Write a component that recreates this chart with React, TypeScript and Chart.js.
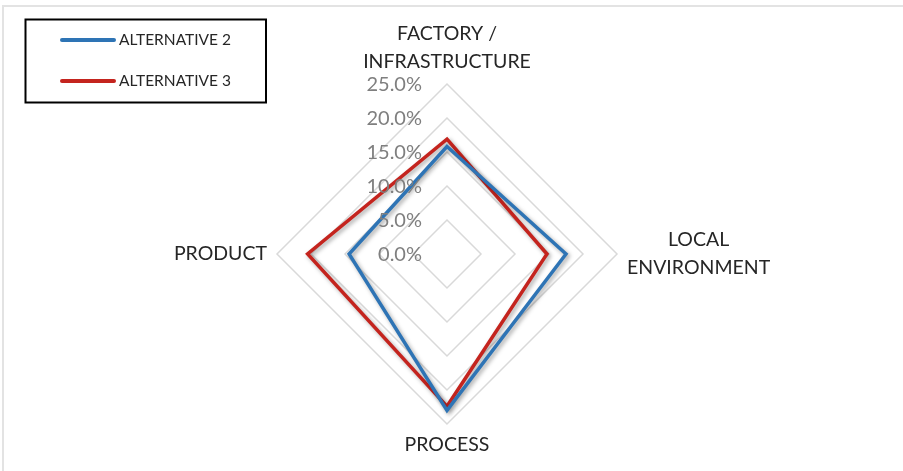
import React, { useEffect, useRef } from "react";
import { Chart, registerables } from "chart.js";

Chart.register(...registerables);

const categories: string[][] = [
  ["FACTORY /", "INFRASTRUCTURE"],
  ["LOCAL", "ENVIRONMENT"],
  ["PROCESS"],
  ["PRODUCT"],
];
const seriesNames = ["ALTERNATIVE 2", "ALTERNATIVE 3"];
const alternative2 = [15.8, 17.5, 23.0, 14.4];
const alternative3 = [16.9, 14.7, 22.4, 20.5];
const tickValues = [0, 5, 10, 15, 20, 25];
const seriesColors = ["#2E74B5", "#C4241E"];

const FONT = "Lato, 'Noto Sans', sans-serif";
const fmt = (v: number) => v.toFixed(1) + "%";

const overlayPlugin = {
  id: "overlay",
  beforeDatasetsDraw(chart: any) {
    const ctx = chart.ctx;
    ctx.save();
    ctx.shadowColor = "rgba(0,0,0,0.35)";
    ctx.shadowBlur = 4;
    ctx.shadowOffsetX = 2;
    ctx.shadowOffsetY = 2;
  },
  afterDatasetsDraw(chart: any) {
    chart.ctx.restore();
  },
  afterDraw(chart: any) {
    const ctx = chart.ctx;
    const s = chart.scales.r;
    // tick labels
    ctx.save();
    ctx.font = `20px ${FONT}`;
    ctx.fillStyle = "#7f7f7f";
    ctx.textAlign = "right";
    ctx.textBaseline = "middle";
    tickValues.forEach((v) => {
      const d = s.getDistanceFromCenterForValue(v);
      ctx.fillText(fmt(v), s.xCenter - 25, s.yCenter - d + 1);
    });
    ctx.restore();

    // point labels
    ctx.save();
    ctx.font = `19.5px ${FONT}`;
    ctx.fillStyle = "#262626";
    ctx.textBaseline = "middle";
    const lh = 28;
    const labels: string[][] = chart.data.labels;
    labels.forEach((lines, i) => {
      const p = s.getPointPosition(i, s.drawingArea);
      if (i === 0) {
        ctx.textAlign = "center";
        lines.forEach((ln, k) => {
          ctx.fillText(ln, p.x, p.y - 22 - lh * (lines.length - 1 - k));
        });
      } else if (i === 1) {
        ctx.textAlign = "center";
        const w = Math.max(...lines.map((l) => ctx.measureText(l).width));
        const cx = p.x + 10 + w / 2;
        lines.forEach((ln, k) => {
          ctx.fillText(ln, cx, p.y - (lh * (lines.length - 1)) / 2 + lh * k);
        });
      } else if (i === 2) {
        ctx.textAlign = "center";
        lines.forEach((ln, k) => ctx.fillText(ln, p.x, p.y + 21 + lh * k));
      } else {
        ctx.textAlign = "right";
        lines.forEach((ln, k) => ctx.fillText(ln, p.x - 10, p.y + lh * k));
      }
    });
    ctx.restore();

    // legend
    ctx.save();
    ctx.strokeStyle = "#000000";
    ctx.lineWidth = 2;
    ctx.strokeRect(25.5, 19.5, 240.5, 83);
    ctx.font = `15.5px ${FONT}`;
    ctx.fillStyle = "#262626";
    ctx.textAlign = "left";
    ctx.textBaseline = "middle";
    chart.data.datasets.forEach((ds: any, i: number) => {
      const y = 40 + i * 41;
      ctx.beginPath();
      ctx.strokeStyle = ds.borderColor;
      ctx.lineWidth = 4;
      ctx.lineCap = "round";
      ctx.moveTo(62, y);
      ctx.lineTo(114, y);
      ctx.stroke();
      ctx.fillText(ds.label, 119, y);
    });
    ctx.restore();
  },
};

export default function App() {
  const ref = useRef<HTMLCanvasElement>(null);
  useEffect(() => {
    if (!ref.current) return;
    const chart = new Chart(ref.current, {
      type: "radar",
      data: {
        labels: categories as any,
        datasets: [
          {
            label: seriesNames[0],
            data: alternative2,
            borderColor: seriesColors[0],
            backgroundColor: "transparent",
            borderWidth: 3.5,
            fill: false,
            pointRadius: 0,
            tension: 0,
            borderJoinStyle: "miter",
          },
          {
            label: seriesNames[1],
            data: alternative3,
            borderColor: seriesColors[1],
            backgroundColor: "transparent",
            borderWidth: 3.5,
            fill: false,
            pointRadius: 0,
            tension: 0,
            borderJoinStyle: "miter",
          },
        ],
      },
      options: {
        responsive: false,
        maintainAspectRatio: false,
        devicePixelRatio: 1,
        animation: false,
        layout: { padding: { left: 277, right: 286, top: 84, bottom: 46 } },
        plugins: { legend: { display: false }, tooltip: { enabled: false } },
        scales: {
          r: {
            min: tickValues[0],
            max: tickValues[tickValues.length - 1],
            ticks: { stepSize: tickValues[1] - tickValues[0], display: false },
            grid: { color: "#d9d9d9", lineWidth: 1.5 },
            angleLines: { display: false },
            pointLabels: { display: false },
          },
        },
      },
      plugins: [overlayPlugin],
    } as any);
    return () => chart.destroy();
  }, []);

  return (
    <div
      style={{
        position: "fixed",
        left: 0,
        top: 0,
        width: 903,
        height: 471,
        overflow: "hidden",
        background: "#ffffff",
      }}
    >
      <div
        style={{
          position: "absolute",
          left: 2,
          top: 5,
          width: 1200,
          height: 1200,
          borderTop: "2px solid #e3e3e3",
          borderLeft: "2px solid #e3e3e3",
        }}
      />
      <canvas
        ref={ref}
        width={903}
        height={471}
        style={{ position: "absolute", left: 0, top: 0, width: 903, height: 471 }}
      />
    </div>
  );
}
